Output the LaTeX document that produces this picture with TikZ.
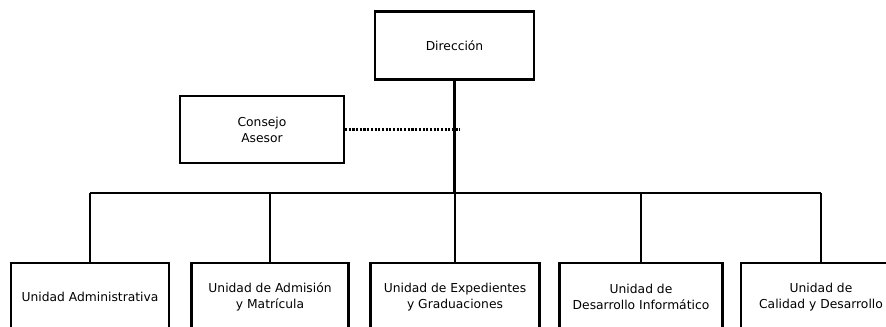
\documentclass[tikz,border=0pt]{standalone}
\usepackage{fontspec}
\setmainfont{DejaVu Sans}
\usetikzlibrary{positioning}

\begin{document}
\begin{tikzpicture}[
    x=0.02cm, y=-0.02cm,
    line width=1.2pt,
    every node/.style={font=\fontsize{7}{9.1}\selectfont, align=center},
    unit/.style={draw, minimum height=1.36cm, inner sep=0pt},
    link/.style={line width=1.2pt}
]
    \useasboundingbox (0,0) rectangle (886,326);

    % top
    \node[unit, minimum width=3.18cm] (dir) at (454.5,45.5) {Dirección};
    \node[unit, minimum width=3.28cm, minimum height=1.34cm] (cons) at (262,129.5) {Consejo\\Asesor};

    % units
    \node[unit, minimum width=3.16cm] (adm)  at (90,297)  {Unidad Administrativa};
    \node[unit, minimum width=3.14cm] (mat)  at (270,297) {Unidad de Admisión\\y Matrícula};
    \node[unit, minimum width=3.38cm] (exp)  at (455,297) {Unidad de Expedientes\\y Graduaciones};
    \node[unit, minimum width=3.26cm] (inf)  at (641,297) {Unidad de\\Desarrollo Informático};
    \node[unit, minimum width=3.20cm] (cal)  at (821,297) {Unidad de\\Calidad y Desarrollo};

    \coordinate (bar) at (455,193);

    \draw[link] (dir.south) -- (dir.south |- bar);
    \draw[link] (adm.north |- bar) -- (cal.north |- bar);
    \foreach \u in {adm, mat, exp, inf, cal}
        \draw[link] (\u.north) -- (\u.north |- bar);
    \draw[link, dash pattern=on 1.2pt off 0.9pt] (cons.east) -- ([xshift=3] cons.east -| dir.south);

\end{tikzpicture}
\end{document}
